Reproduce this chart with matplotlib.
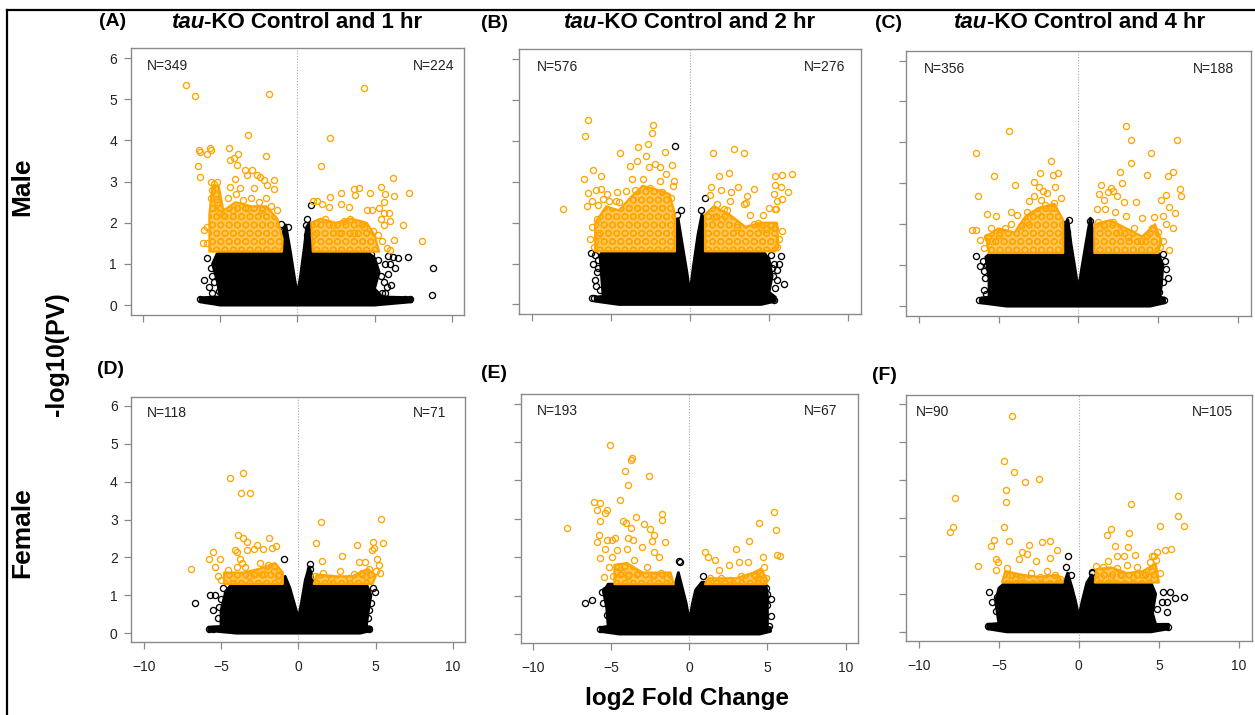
import matplotlib
matplotlib.use('Agg')
import matplotlib.pyplot as plt
from matplotlib.patches import Polygon
from matplotlib.lines import Line2D

plt.rcParams['font.family'] = ['Liberation Sans', 'DejaVu Sans']
plt.rcParams['hatch.linewidth'] = 0.9

# ---------------- data ----------------
panels = ['A', 'B', 'C', 'D', 'E', 'F']
titles = ['Control and 1 hr', 'Control and 2 hr', 'Control and 4 hr']
n_left = [349, 576, 356, 118, 193, 90]
n_right = [224, 276, 188, 71, 67, 105]
n_left_x = [-8.43, -8.36, -8.36, -8.51, -8.42, -9.14]
n_right_x = [8.85, 8.54, 8.46, 8.51, 8.40, 8.36]
xticks = [-10, -5, 0, 5, 10]
yticks = [0, 1, 2, 3, 4, 5, 6]

# significant (orange) genes
orange_A = [(-7.21,5.34),(-6.61,5.08),(-1.84,5.13),(4.30,5.28),(-3.17,4.14),(2.12,4.06),
    (-6.35,3.78),(-6.3,3.71),(-5.85,3.67),(-5.68,3.82),(-5.62,3.78),(-4.45,3.82),(-3.82,3.66),
    (-4.13,3.57),(-4.34,3.52),(-2.01,3.62),(-6.44,3.38),(-6.33,3.11),(-3.93,3.40),(-3.37,3.28),
    (-2.94,3.28),(-3.26,3.15),(-2.59,3.17),(-2.44,3.11),(-2.18,3.03),(-1.94,2.92),(-1.53,3.03),
    (-1.49,2.81),(-4.02,3.07),(1.51,3.37),(6.20,3.10),(3.97,2.85),(3.69,2.81),(2.83,2.73),
    (3.76,2.68),(5.44,2.88),(4.71,2.73),(5.66,2.70),(6.24,2.64),(7.21,2.72),(2.14,2.62),
    (0.99,2.52),(1.27,2.53),(1.6,2.46),(2.03,2.39),(2.83,2.46),(3.33,2.38),(5.59,2.51),
    (8.08,1.57),(6.87,1.95),(6.24,1.58),(6.03,1.35),(4.51,2.30),(4.84,2.30),(5.27,2.35),
    (5.59,2.23),(5.92,2.23),(-6.03,1.82),(-5.85,1.91),(-6.11,1.52),(-5.85,1.50),
    (-5.6,3.0),(-5.4,2.95),(-5.2,3.0),(-5.5,2.8),(-5.3,2.7),(-5.6,2.6),(-5.2,2.5),(-5.45,2.35),
    (-5.0,2.25),(-4.34,2.88),(-3.69,2.84),(-2.83,2.84),(-4.5,2.6),(-4.0,2.7),(-3.5,2.55),
    (-3.0,2.6),(-2.5,2.5),(-2.0,2.6),(-1.7,2.4),(-1.3,2.3),(-4.8,2.2),(-4.2,2.3),(-3.2,2.35),
    (-2.3,2.3),(1.2,2.0),(1.8,2.1),(2.3,1.95),(3.0,2.05),(3.4,2.1),(4.0,2.0),(4.3,1.9),
    (4.9,1.8),(5.2,1.7),(5.5,1.55),(1.1,1.7),(2.7,1.75),(3.7,1.75),(5.8,1.4),(5.6,1.95),
    (6.0,2.05),(5.4,2.1)]
orange_B = [(-6.46,4.51),(-6.62,4.13),(-2.34,4.38),(-2.38,4.20),(-2.68,3.93),(-3.27,3.85),
    (-4.41,3.70),(-2.76,3.63),(-1.58,3.74),(-3.35,3.50),(-3.78,3.38),(-2.24,3.44),(-1.12,3.42),
    (-1.92,3.36),(-2.62,3.36),(-6.12,3.30),(-5.63,3.13),(-6.73,3.06),(-3.65,3.07),(-3.0,3.06),
    (-1.92,3.03),(-1.5,3.2),(-6.43,2.72),(-5.97,2.79),(-5.65,2.83),(-5.23,2.71),(-4.6,2.75),
    (-4.05,2.77),(-8.04,2.34),(-6.54,2.42),(-6.18,2.53),(-5.8,2.44),(-5.49,2.59),(-5.13,2.54),
    (-4.7,2.52),(1.46,3.70),(2.76,3.79),(3.40,3.71),(2.45,3.21),(1.86,3.14),(5.38,3.13),
    (5.80,3.17),(6.48,3.18),(1.31,2.87),(1.96,2.81),(2.57,2.75),(3.04,2.87),(4.05,2.83),
    (5.38,2.93),(5.74,2.87),(6.22,2.76),(5.32,2.69),(5.84,2.59),(5.53,2.54),(1.24,2.67),
    (2.53,2.54),(3.54,2.49),(3.42,2.46),(3.59,2.65),(5.0,2.37),(5.36,2.34),(5.44,2.33),
    (2.15,2.34),(2.32,2.30),(1.73,2.46),(-6.3,1.6),(-6.1,1.4),(-6.2,1.9),(-5.9,2.1),(-5.8,1.7),
    (-4.5,2.5),(-3.5,2.8),(-2.5,2.85),(-1.8,2.75),(-1.2,2.6),(-1.1,2.9),(-1.0,3.03),
    (4.05,1.97),(4.5,1.9),(4.8,1.85),(5.1,1.92),(5.4,1.88),(5.8,1.8),(5.6,1.6),(5.5,1.4),
    (4.3,2.0),(3.0,1.9),(2.0,2.1),(1.5,2.15),(3.8,2.2),(4.6,2.2)]
orange_C = [(-4.36,4.27),(-6.39,3.74),(-1.72,3.54),(-5.26,3.19),(-2.39,3.26),(-1.57,3.20),
    (-1.30,3.26),(-4.0,2.95),(-2.81,3.04),(-2.47,2.92),(-2.2,2.81),(-1.95,2.76),(-1.45,2.90),
    (-1.11,2.64),(-6.28,2.69),(-3.10,2.57),(-2.79,2.68),(-2.37,2.60),(-2.07,2.47),(-1.74,2.39),
    (-1.53,2.51),(-5.72,2.25),(-5.15,2.21),(-4.25,2.30),(-3.83,2.23),(-3.2,2.31),(-2.58,2.27),
    (-6.66,1.87),(-6.39,1.86),(-6.14,1.62),(-5.93,1.42),(-5.72,1.70),(2.99,4.40),(3.33,4.06),
    (6.18,4.06),(4.54,3.75),(3.33,3.50),(2.62,3.28),(4.29,3.21),(2.76,3.02),(5.59,3.18),
    (5.91,3.28),(1.40,2.95),(2.03,2.88),(1.88,2.80),(2.14,2.82),(6.37,2.87),(6.43,2.68),
    (5.49,2.72),(5.17,2.60),(5.70,2.43),(6.07,2.27),(1.30,2.74),(1.61,2.60),(1.15,2.37),
    (1.65,2.37),(2.45,2.68),(2.83,2.55),(3.62,2.55),(4.75,2.19),(5.49,2.01),(5.91,1.91),
    (5.70,1.36),(-5.4,1.6),(-5.0,1.75),(-4.6,1.9),(-4.2,2.0),(-3.6,1.95),(-3.2,2.05),(-5.5,1.9),
    (1.2,2.05),(1.6,1.95),(2.2,2.05),(2.6,1.8),(3.1,1.7),(3.5,1.9),(3.9,1.6),(4.3,1.75),
    (4.6,1.9),(5.0,1.8),(5.3,1.6),(5.1,1.45),(2.3,2.3),(3.0,2.2),(4.0,2.15),(5.3,2.2)]
orange_D = [(-3.58,4.24),(-4.42,4.10),(-3.73,3.69),(-3.15,3.69),(1.44,2.94),(5.32,3.01),
    (-3.92,2.60),(-3.60,2.50),(-3.32,2.41),(-1.88,2.50),(-2.65,2.32),(-2.87,2.22),(-2.31,2.22),
    (-1.44,2.30),(-1.72,2.24),(-5.54,2.15),(-5.78,1.95),(-5.06,1.95),(-4.09,2.19),(-3.99,2.15),
    (-3.30,2.19),(-3.77,1.97),(-3.66,1.84),(-6.96,1.69),(-5.39,1.75),(-4.53,1.68),(-3.94,1.74),
    (-3.45,1.75),(-2.48,1.84),(-1.94,1.80),(1.14,2.37),(3.77,2.32),(4.81,2.41),(5.50,2.39),
    (2.84,2.03),(1.51,1.91),(3.94,1.89),(4.31,1.89),(4.89,2.24),(4.74,2.19),(5.11,1.95),
    (5.2,1.8),(5.0,1.65),(5.3,1.6),(4.6,1.7),(-5.2,1.5),(-5.0,1.4),(-4.2,1.45),(-3.2,1.5),
    (-2.8,1.6),(-2.2,1.55),(-1.6,1.65),(-1.3,1.5),(1.1,1.5),(1.6,1.6),(2.1,1.45),(2.7,1.65),
    (3.3,1.45),(3.6,1.55),(4.1,1.6),(4.4,1.5)]
orange_E = [(-5.05,4.92),(-3.66,4.59),(-3.73,4.53),(-4.09,4.24),(-2.60,4.12),(-3.94,3.88),
    (-6.11,3.44),(-5.69,3.42),(-5.90,3.23),(-5.26,3.23),(-5.43,3.14),(-4.41,3.50),(-5.71,2.95),
    (-3.39,3.05),(-4.28,2.94),(-4.07,2.88),(-2.92,2.86),(-1.75,3.12),(-1.77,2.97),(-7.86,2.76),
    (-3.73,2.75),(-2.49,2.74),(-5.79,2.58),(-2.24,2.58),(-5.94,2.39),(-5.26,2.46),(-4.94,2.45),
    (-4.73,2.49),(-3.92,2.49),(-3.60,2.45),(-2.41,2.42),(-1.53,2.39),(-5.4,2.21),(-4.62,2.20),
    (-3.98,2.21),(-3.02,2.27),(-2.28,2.14),(-5.69,1.98),(-4.94,2.01),(-3.56,1.93),(-1.94,2.01),
    (-5.47,1.49),(-5.15,1.75),(5.41,3.17),(5.52,2.71),(4.47,2.89),(3.79,2.41),(3.00,2.21),
    (1.02,2.14),(1.17,2.01),(1.66,1.94),(5.60,2.06),(5.81,2.04),(4.71,2.01),(3.15,1.88),
    (3.75,1.88),(2.51,1.80),(1.87,1.67),(-4.6,1.75),(-4.3,1.6),(-3.9,1.5),(-3.3,1.6),
    (-2.7,1.75),(-2.3,1.5),(-1.8,1.6),(-1.4,1.45),(-4.9,1.5),(4.2,1.5),(4.5,1.6),(4.8,1.75),
    (4.9,1.45),(4.4,1.4),(1.3,1.45),(2.0,1.45),(2.6,1.4),(3.3,1.5)]
orange_F = [(-4.20,5.70),(-4.70,4.51),(-4.06,4.22),(-3.39,3.94),(-2.52,4.04),(-4.56,3.74),
    (-4.54,3.42),(-7.76,3.52),(-7.87,2.75),(-8.03,2.64),(-4.68,2.77),(-4.37,2.40),(-5.29,2.43),
    (-5.47,2.26),(-3.10,2.29),(-2.33,2.36),(-1.79,2.39),(-3.54,2.10),(-3.25,2.06),(-1.39,2.16),
    (-6.31,1.74),(-5.18,1.92),(-5.06,1.84),(-5.16,1.62),(-4.5,1.68),(-3.77,1.91),(-2.66,1.87),
    (-1.79,1.94),(6.18,3.59),(6.22,3.06),(6.54,2.78),(3.27,3.36),(5.10,2.78),(3.14,2.61),
    (1.75,2.56),(2.02,2.70),(2.23,2.25),(3.04,2.24),(3.52,2.03),(5.39,2.17),(5.76,2.19),
    (2.37,1.99),(2.79,1.99),(4.7,2.0),(4.56,1.99),(4.45,1.84),(1.85,1.88),(1.08,1.74),
    (1.54,1.71),(2.37,1.68),(3.0,1.75),(3.66,1.70),(5.08,1.55),(-4.3,1.5),(-3.6,1.45),
    (-3.0,1.55),(-2.4,1.45),(-2.0,1.6),(-1.5,1.5),(-1.2,1.4),(-4.0,1.4),(4.8,1.9),(4.9,2.1),
    (4.6,1.6),(4.3,1.45),(4.0,1.5),(3.4,1.45),(2.7,1.5),(2.0,1.45),(1.4,1.45)]

# outlying non-significant (black) genes
black_A = [(-5.85,1.15),(-6.03,0.62),(-5.6,0.9),(-5.4,0.55),(-5.3,1.05),(-5.5,0.3),(-6.3,0.14),
    (-6.0,0.13),(-5.7,0.13),(8.79,0.90),(8.73,0.24),(7.19,1.18),(6.5,1.14),(6.2,1.18),(5.7,1.0),
    (5.9,0.75),(6.1,0.5),(5.6,0.55),(5.5,0.3),(0.89,2.43),(-1.04,1.97),(-0.9,1.8),(-0.6,1.9),
    (0.65,2.1),(0.55,1.95),(0.6,1.7),(7.0,0.14),(7.3,0.14),(-1.5,1.38),(-5.2,0.8),(-5.1,0.35),
    (-4.9,1.15),(5.2,1.1),(5.4,0.7),(5.7,0.3),(6.3,0.9),(5.9,1.2),(-5.7,0.45),(-5.5,0.7),
    (6.0,1.0),(5.8,0.45),(-4.7,1.25),(4.8,1.25)]
black_B = [(-6.12,1.0),(-6.08,0.15),(-6.25,1.27),(-5.95,0.45),(-5.9,0.8),(-5.8,1.1),(-6.0,0.6),
    (5.74,1.19),(5.27,0.69),(5.95,0.50),(5.32,0.11),(5.0,0.14),(5.3,1.0),(5.5,0.85),(5.1,1.2),
    (0.93,2.60),(0.99,2.14),(-0.93,3.87),(-0.8,2.2),(-0.6,2.3),(0.7,2.3),(-6.2,0.15),
    (-5.7,0.35),(-5.8,0.9),(5.4,0.4),(5.2,0.9),(-6.0,1.2),(5.6,1.0),(5.5,0.6)]
black_C = [(-6.41,1.23),(-6.14,0.97),(-5.86,0.69),(-6.03,0.14),(-6.2,0.14),(-5.9,0.4),(-5.7,1.0),
    (-0.9,2.01),(0.73,2.09),(5.28,1.28),(5.07,0.34),(5.38,0.14),(5.5,0.9),(5.3,0.6),(-0.7,1.8),
    (0.7,1.85),(-0.6,2.1),(-5.8,0.3),(5.4,1.1),(5.6,0.7),(-6.0,1.1),(-5.9,0.85)]
black_D = [(-6.68,0.79),(-5.71,1.01),(-5.39,1.01),(-5.54,0.61),(-5.75,0.11),(-5.5,0.11),
    (-5.2,0.4),(-5.0,0.9),(-0.91,1.96),(0.75,1.82),(0.78,1.7),(4.96,1.08),(4.5,0.4),(4.6,0.11),
    (4.2,1.2),(4.7,0.8),(4.6,0.6),(-4.9,1.2),(-5.1,0.7),(4.8,1.2)]
black_E = [(-6.71,0.80),(-6.26,0.88),(-5.69,0.12),(-5.4,0.12),(-5.3,0.5),(-5.6,1.1),(-5.4,1.15),
    (-0.68,1.91),(-0.62,1.88),(0.85,1.51),(5.24,0.48),(4.98,0.75),(5.1,0.2),(5.0,1.05),(4.9,1.2),
    (-5.5,0.8),(5.2,0.9)]
black_F = [(-0.65,2.0),(0.85,1.58),(0.8,1.55),(-5.60,1.06),(-5.12,0.91),(-5.70,0.15),(-5.3,0.16),
    (-5.2,0.55),(5.24,1.04),(5.70,1.04),(6.54,0.92),(5.49,0.52),(5.60,0.14),(6.0,0.9),(5.2,0.8),
    (5.5,0.8),(-0.8,1.7),(-0.5,1.5),(-5.4,0.8),(4.9,0.6)]

# outline of the dense non-significant cloud (x, y)
cloud_A = [(-6.3,0.08),(-6.3,0.18),(-5.0,0.2),(-5.2,0.6),(-5.5,1.0),(-5.2,1.25),(-4.5,1.3),
    (-1.0,1.3),(-0.95,1.75),(-0.75,1.95),(-0.45,1.3),(-0.2,0.7),(0.0,0.25),(0.2,0.7),(0.45,1.4),
    (0.6,1.9),(0.8,2.0),(1.0,1.3),(4.5,1.3),(5.0,1.15),(5.3,0.8),(5.0,0.4),(5.5,0.2),(7.4,0.18),
    (7.4,0.08),(5.0,0.0),(-5.0,0.0)]
cloud_B = [(-6.0,0.08),(-6.0,0.18),(-5.5,0.2),(-5.6,0.7),(-5.7,1.2),(-5.5,1.32),(-1.0,1.32),
    (-0.95,2.0),(-0.75,2.1),(-0.5,1.5),(-0.2,0.8),(0.0,0.27),(0.2,0.9),(0.5,1.7),(0.75,2.2),
    (0.95,2.0),(1.0,1.32),(4.6,1.32),(5.0,1.1),(5.2,0.7),(5.0,0.3),(5.4,0.18),(5.4,0.08),
    (4.5,0.0),(-4.5,0.0)]
cloud_C = [(-6.1,0.08),(-6.1,0.2),(-5.6,0.22),(-5.6,0.7),(-5.8,1.2),(-5.5,1.3),(-1.0,1.3),
    (-0.9,2.0),(-0.65,2.1),(-0.45,1.5),(-0.2,0.9),(0.0,0.4),(0.2,0.9),(0.5,1.6),(0.75,2.15),
    (0.95,1.8),(1.0,1.3),(5.0,1.3),(5.3,1.0),(5.2,0.5),(5.1,0.22),(5.4,0.2),(5.4,0.08),
    (4.5,0.0),(-4.5,0.0)]
cloud_D = [(-5.8,0.07),(-5.8,0.16),(-5.0,0.18),(-5.0,0.6),(-4.7,1.1),(-4.3,1.3),(-1.0,1.3),
    (-0.85,1.5),(-0.55,1.2),(-0.2,0.7),(0.0,0.4),(0.2,0.8),(0.45,1.4),(0.7,1.75),(0.9,1.5),
    (1.0,1.3),(4.4,1.3),(4.7,1.0),(4.5,0.5),(4.4,0.18),(4.7,0.16),(4.7,0.07),(4.0,0.0),(-4.0,0.0)]
cloud_E = [(-5.7,0.07),(-5.7,0.17),(-5.2,0.2),(-5.3,0.7),(-5.5,1.1),(-5.2,1.3),(-0.9,1.3),
    (-0.7,1.6),(-0.45,1.2),(-0.2,0.8),(0.0,0.35),(0.2,0.8),(0.4,1.15),(0.8,1.35),(4.9,1.3),
    (5.0,1.0),(5.0,0.4),(5.0,0.17),(5.2,0.17),(5.2,0.07),(4.5,0.0),(-4.5,0.0)]
cloud_F = [(-5.7,0.08),(-5.7,0.2),(-5.0,0.22),(-5.2,0.8),(-5.0,1.15),(-4.6,1.3),(-0.9,1.3),
    (-0.7,1.55),(-0.45,1.2),(-0.2,0.8),(0.0,0.4),(0.2,0.8),(0.5,1.3),(0.8,1.5),(1.0,1.3),
    (4.5,1.3),(4.8,1.0),(4.6,0.5),(4.8,0.2),(5.6,0.2),(5.6,0.08),(4.5,0.0),(-4.5,0.0)]

# outline of the densest significant regions
core_A = [[(-5.7,1.3),(-5.7,2.2),(-5.5,2.9),(-5.1,2.9),(-4.8,2.3),(-4.0,2.5),(-3.0,2.4),
           (-2.0,2.4),(-1.3,2.1),(-0.95,1.6),(-1.0,1.3)],
          [(1.0,1.3),(0.9,2.0),(1.5,2.1),(2.5,2.0),(3.5,2.1),(4.5,2.0),(5.0,1.7),(5.3,1.3)]]
core_B = [[(-6.0,1.3),(-6.0,2.0),(-5.3,2.4),(-4.5,2.3),(-3.8,2.6),(-3.0,2.9),(-2.0,2.8),
           (-1.3,2.7),(-0.95,2.2),(-0.95,1.3)],
          [(0.95,1.3),(0.95,2.2),(1.5,2.4),(2.5,2.2),(3.5,1.9),(4.5,2.0),(5.5,2.0),(5.6,1.4),(5.4,1.3)]]
core_C = [[(-5.6,1.3),(-5.8,1.7),(-5.0,1.9),(-4.0,1.8),(-3.3,2.2),(-2.5,2.4),(-1.5,2.5),
           (-0.95,2.1),(-0.95,1.3)],
          [(1.0,1.3),(1.0,2.0),(2.0,2.1),(3.0,1.9),(4.0,1.7),(4.8,2.0),(5.2,1.6),(5.0,1.3)]]
core_D = [[(-4.8,1.3),(-4.8,1.6),(-3.5,1.6),(-2.5,1.7),(-1.5,1.85),(-1.0,1.6),(-1.0,1.3)],
          [(1.0,1.3),(1.2,1.55),(2.5,1.5),(3.5,1.5),(4.5,1.7),(5.0,1.5),(4.8,1.3)]]
core_E = [[(-4.8,1.3),(-4.8,1.8),(-4.0,1.85),(-3.0,1.6),(-2.0,1.6),(-1.2,1.6),(-1.0,1.3)],
          [(1.0,1.3),(1.2,1.45),(3.0,1.45),(4.1,1.6),(4.6,1.7),(5.0,1.4),(4.9,1.3)]]
core_F = [[(-4.8,1.3),(-4.6,1.6),(-3.5,1.5),(-2.5,1.45),(-1.3,1.5),(-1.0,1.3)],
          [(1.0,1.3),(1.1,1.65),(2.0,1.7),(3.0,1.55),(4.0,1.6),(4.8,1.8),(5.0,1.3)]]

oranges = [orange_A, orange_B, orange_C, orange_D, orange_E, orange_F]
blacks = [black_A, black_B, black_C, black_D, black_E, black_F]
clouds = [cloud_A, cloud_B, cloud_C, cloud_D, cloud_E, cloud_F]
cores = [core_A, core_B, core_C, core_D, core_E, core_F]

# ---------------- layout ----------------
W, H = 1255, 715
fig = plt.figure(figsize=(W / 100, H / 100), dpi=100)

# panel boxes in pixels: left, top, right, bottom
boxes = [(130.7, 48.3, 464.0, 315.0), (519.3, 49.3, 860.7, 314.3), (906.0, 50.7, 1250.7, 316.0),
         (131.3, 396.7, 465.3, 642.3), (520.7, 394.3, 858.0, 643.3), (906.0, 395.0, 1251.7, 641.0)]
letter_pos = [(113, 22), (494.7, 24), (888, 24), (110, 369), (494, 374), (884.5, 376)]
title_x = [296.7, 689, 1079]

AX_GRAY = '#8a8a8a'
ORANGE = '#FFA500'
CORE = '#FFC65A'
MS = 4.4
MEW = 0.95

for i, key in enumerate(panels):
    l, t, r, b = boxes[i]
    ax = fig.add_axes([l / W, 1 - b / H, (r - l) / W, (b - t) / H])
    ax.set_xlim(-10.8, 10.8)
    ax.set_ylim(-0.24, 6.24)
    for s in ax.spines.values():
        s.set_color(AX_GRAY)
        s.set_linewidth(1.0)
    ax.set_xticks(xticks)
    ax.set_yticks(yticks)
    ax.tick_params(axis='both', direction='out', color=AX_GRAY, width=0.9, labelsize=10,
                   labelcolor='#222222')
    ax.tick_params(axis='x', length=5, pad=8)
    ax.tick_params(axis='y', length=4.8, pad=5)
    if i < 3:
        ax.tick_params(axis='x', labelbottom=False)
    if i % 3 != 0:
        ax.tick_params(axis='y', labelleft=False)

    ax.axvline(0, color='#a8a8a8', ls=(0, (1, 1.5)), lw=0.8, zorder=1)

    ax.add_patch(Polygon(clouds[i], closed=True, fc='black', ec='black', lw=2.0,
                         joinstyle='round', zorder=2))
    bx = [p[0] for p in blacks[i]]
    by = [p[1] for p in blacks[i]]
    ax.plot(bx, by, 'o', mfc='none', mec='black', ms=MS, mew=MEW, zorder=3)

    for core in cores[i]:
        ax.add_patch(Polygon(core, closed=True, fc=CORE, ec=ORANGE, lw=0.0, hatch='OO',
                             zorder=4))
        ax.add_patch(Polygon(core, closed=True, fc='none', ec=ORANGE, lw=1.6,
                             joinstyle='round', zorder=4))
    ox = [p[0] for p in oranges[i]]
    oy = [p[1] for p in oranges[i]]
    ax.plot(ox, oy, 'o', mfc='none', mec=ORANGE, ms=MS, mew=MEW, zorder=5)

    ax.text(n_left_x[i], 5.8, f'N={n_left[i]}', ha='center', va='center', fontsize=10,
            color='#222222')
    ax.text(n_right_x[i], 5.8, f'N={n_right[i]}', ha='center', va='center', fontsize=10,
            color='#222222')

    lx, ly = letter_pos[i]
    fig.text(lx / W, 1 - ly / H, f'({key})', ha='center', va='center', fontsize=14,
             fontweight='bold')

# titles with italic "tau" followed by bold roman text
fig.canvas.draw()
renderer = fig.canvas.get_renderer()
for j in range(3):
    x_c = title_x[j] / W
    y_c = 1 - 23 / H
    t_it = fig.text(0, y_c, 'tau', fontsize=16, fontweight='bold', style='italic',
                    va='center', ha='left')
    t_rm = fig.text(0, y_c, '-KO ' + titles[j], fontsize=16, fontweight='bold',
                    va='center', ha='left')
    w1 = t_it.get_window_extent(renderer).width / W
    w2 = t_rm.get_window_extent(renderer).width / W
    start = x_c - (w1 + w2) / 2
    t_it.set_x(start)
    t_rm.set_x(start + w1)

# row and axis labels
fig.text(22 / W, 1 - 187 / H, 'Male', rotation=90, ha='center', va='center', fontsize=19,
         fontweight='bold')
fig.text(22 / W, 1 - 533 / H, 'Female', rotation=90, ha='center', va='center', fontsize=19,
         fontweight='bold')
fig.text(57 / W, 1 - 354 / H, '-log10(PV)', rotation=90, ha='center', va='center',
         fontsize=18, fontweight='bold')
fig.text(687 / W, 1 - 698 / H, 'log2 Fold Change', ha='center', va='center', fontsize=17.5,
         fontweight='bold')

# outer frame (left and top)
fig.add_artist(Line2D([7 / W, 7 / W], [0, 1 - 10 / H], color='black', lw=1.6,
                      transform=fig.transFigure))
fig.add_artist(Line2D([7 / W, 1], [1 - 10 / H, 1 - 10 / H], color='black', lw=1.6,
                      transform=fig.transFigure))

fig.savefig('out.png', dpi=100)
